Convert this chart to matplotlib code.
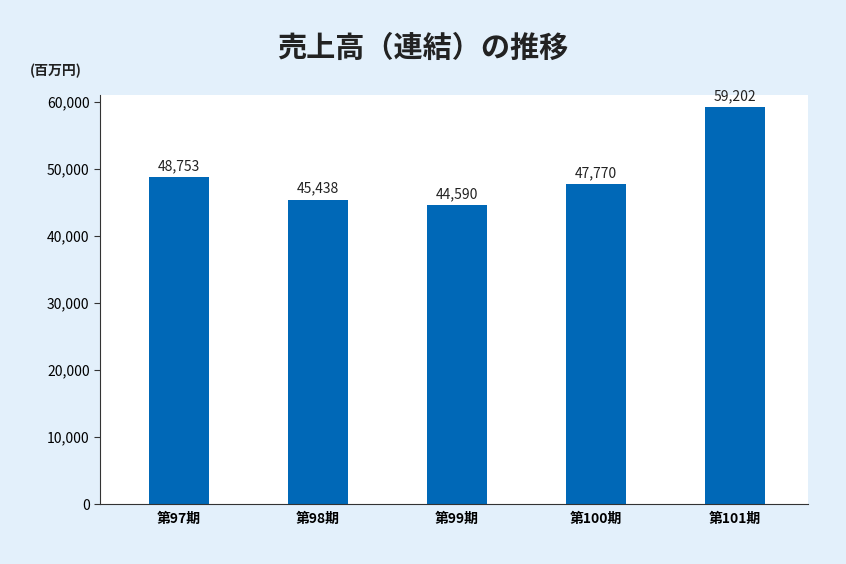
import matplotlib
matplotlib.use("Agg")
import matplotlib.pyplot as plt

categories = ["第97期", "第98期", "第99期", "第100期", "第101期"]
values = [48753, 45438, 44590, 47770, 59202]
yticks = [0, 10000, 20000, 30000, 40000, 50000, 60000]

plt.rcParams["font.family"] = "Noto Sans CJK JP"
fig = plt.figure(figsize=(8.46, 5.64), dpi=100, facecolor="#E3F0FB")
ax = fig.add_axes([100/846, 60/564, 708/846, 409/564])
ax.set_facecolor("white")
x = range(len(categories))
ax.bar(x, values, width=0.43, color="#0068B7")
for i, v in zip(x, values):
    ax.text(i, v + 600, f"{v:,}", ha="center", va="bottom", fontsize=10, color="#222222")
ax.set_xlim(-0.568, 4.525)
ax.set_ylim(0, 61050)
ax.set_yticks(yticks)
ax.set_yticklabels([f"{t:,}" for t in yticks], fontsize=10)
ax.set_xticks(list(x))
ax.set_xticklabels(categories, fontsize=10, fontweight="bold")
for s in ["top", "right"]:
    ax.spines[s].set_visible(False)
for s in ["left", "bottom"]:
    ax.spines[s].set_color("#333333")
ax.tick_params(axis="x", length=0, pad=6)
ax.tick_params(axis="y", length=4, color="#333333")
fig.text(0.5, 1 - 48/564, "売上高（連結）の推移", ha="center", va="center",
         fontsize=21, fontweight="bold", color="#222222")
fig.text(30/846, 1 - 71/564, "(百万円)", ha="left", va="center", fontsize=10,
         fontweight="bold", color="#222222")
fig.savefig("out.png", dpi=100, facecolor=fig.get_facecolor())
